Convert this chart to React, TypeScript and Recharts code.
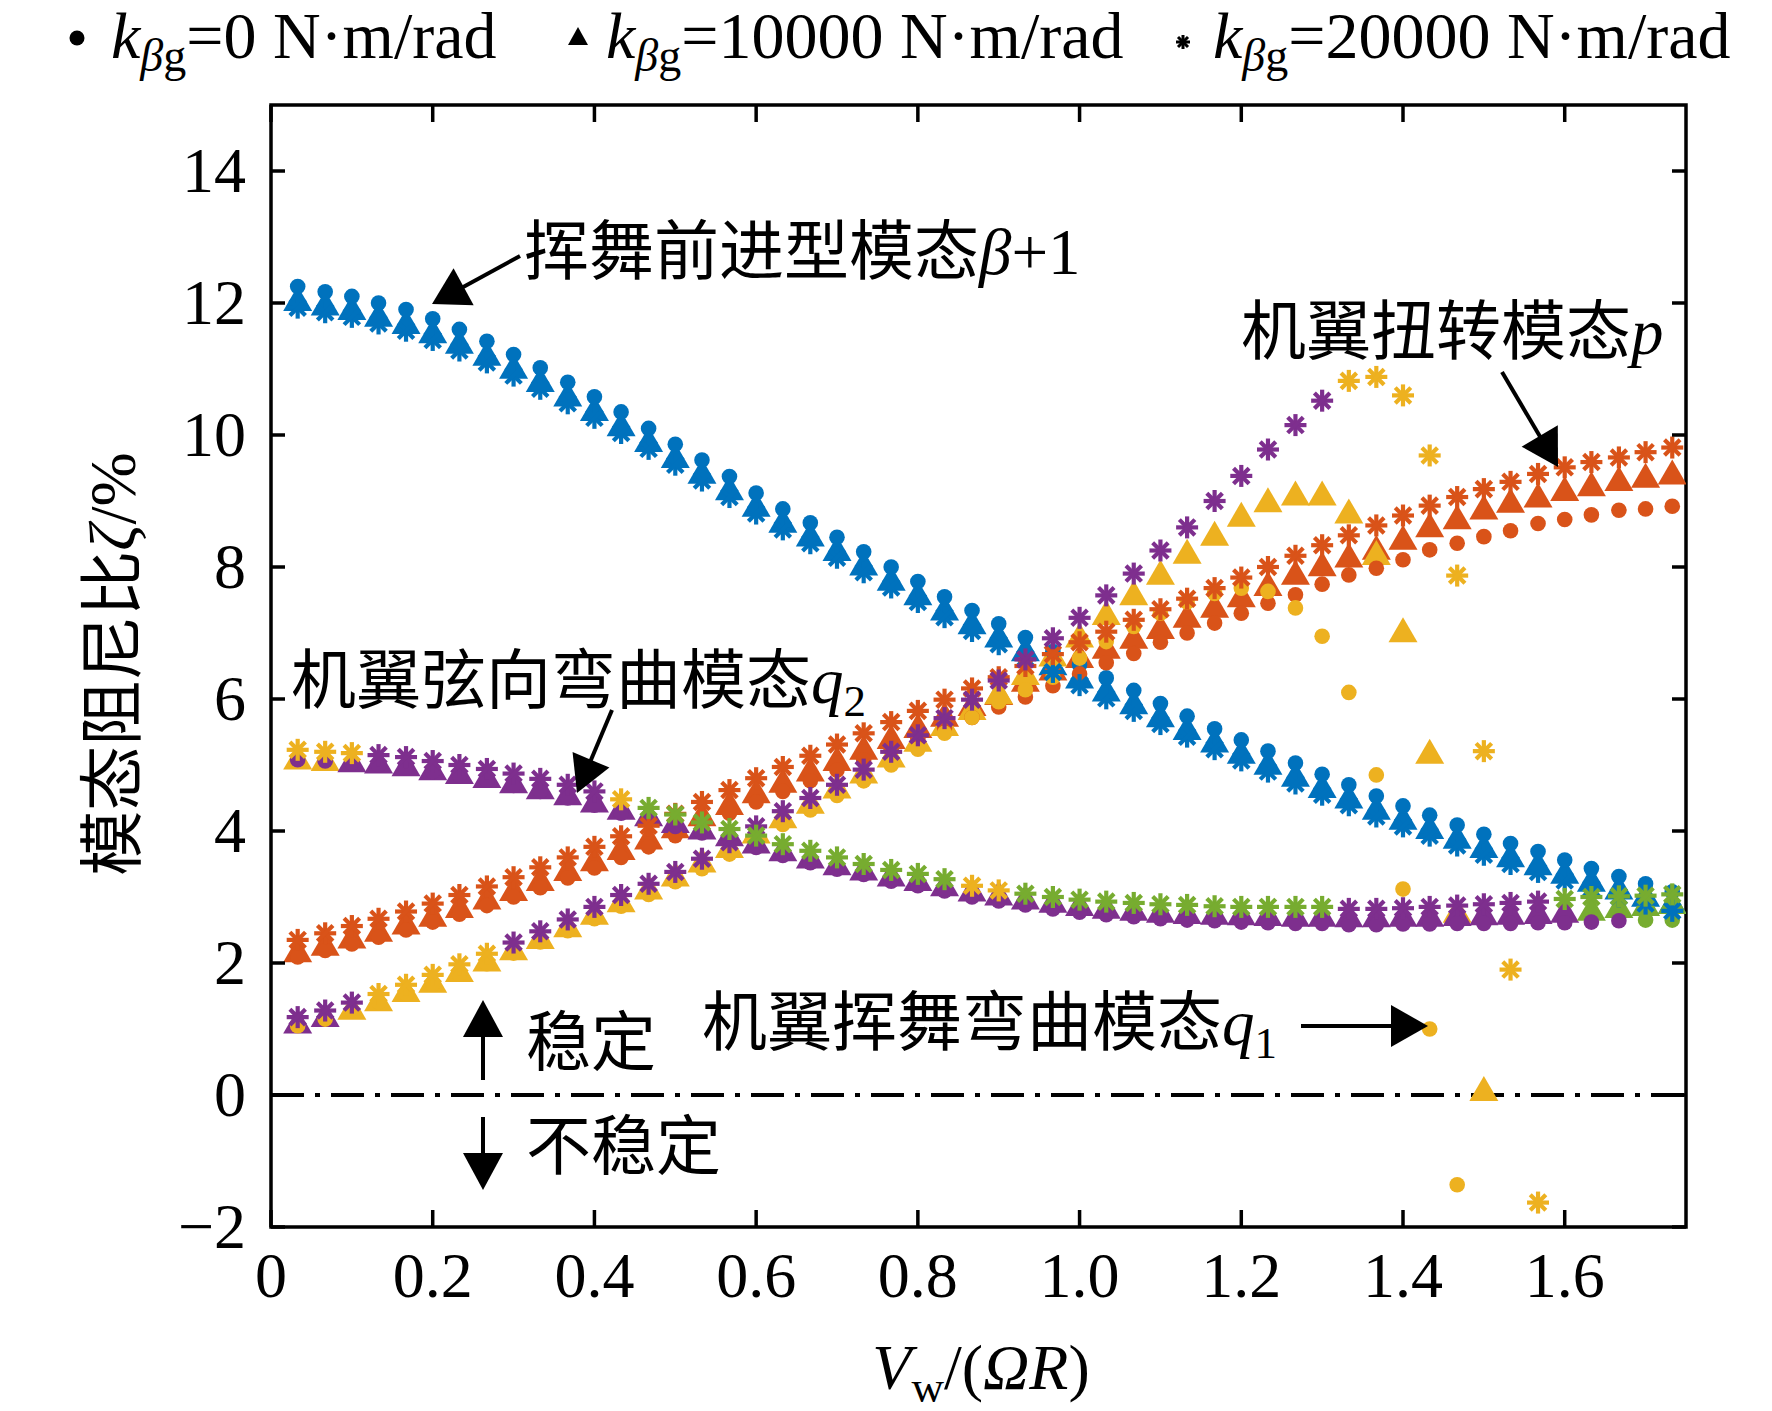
import React from 'react'
import { ScatterChart, Scatter, XAxis, YAxis, ReferenceLine, ReferenceArea } from 'recharts'

const W = 1772
const H = 1411
const PLOT = { left: 271, top: 105, right: 1686, bottom: 1227 }
const X_AXIS_H = 100
const Y_AXIS_W = 150

const BLUE = '#0072BD'
const ORANGE = '#D95319'
const YELLOW = '#EDB120'
const PURPLE = '#7E2F8E'
const GREEN = '#77AC30'

const SERIF = '"Liberation Serif", "Times New Roman", serif'
const CJK = '"Noto Sans CJK SC", "Noto Sans CJK JP", sans-serif'

// V_w/(ΩR) sample points
const speedRatio = [
  0.033, 0.067, 0.1, 0.133, 0.167, 0.2, 0.233, 0.267, 0.3, 0.333,
  0.367, 0.4, 0.433, 0.467, 0.5, 0.533, 0.567, 0.6, 0.633, 0.667,
  0.7, 0.733, 0.767, 0.8, 0.833, 0.867, 0.9, 0.933, 0.967, 1.0,
  1.033, 1.067, 1.1, 1.133, 1.167, 1.2, 1.233, 1.267, 1.3, 1.333,
  1.367, 1.4, 1.433, 1.467, 1.5, 1.533, 1.567, 1.6, 1.633, 1.667,
  1.7, 1.733,
]

const xTicks = [0, 0.2, 0.4, 0.6, 0.8, 1.0, 1.2, 1.4, 1.6]
const yTicks = [-2, 0, 2, 4, 6, 8, 10, 12, 14]

// 挥舞前进型模态 β+1
const betaCircle = [
  12.25, 12.17, 12.1, 12.0, 11.9, 11.76, 11.6, 11.42, 11.22, 11.02,
  10.8, 10.58, 10.35, 10.1, 9.86, 9.62, 9.37, 9.12, 8.88, 8.67,
  8.45, 8.23, 8.0, 7.78, 7.55, 7.34, 7.14, 6.93, 6.72, 6.52,
  6.32, 6.13, 5.93, 5.74, 5.55, 5.38, 5.21, 5.03, 4.86, 4.7,
  4.53, 4.38, 4.24, 4.09, 3.95, 3.81, 3.69, 3.56, 3.43, 3.31,
  3.2, 3.08,
]
const betaTri = [
  12.07, 12.0, 11.93, 11.83, 11.72, 11.58, 11.42, 11.24, 11.04, 10.84,
  10.62, 10.4, 10.17, 9.93, 9.69, 9.45, 9.2, 8.95, 8.71, 8.5,
  8.28, 8.06, 7.83, 7.61, 7.38, 7.17, 6.97, 6.76, 6.55, 6.35,
  6.15, 5.96, 5.76, 5.57, 5.38, 5.21, 5.04, 4.86, 4.69, 4.53,
  4.36, 4.21, 4.07, 3.92, 3.78, 3.64, 3.52, 3.39, 3.27, 3.15,
  3.04, 2.93,
]
const betaStar = [
  11.93, 11.86, 11.79, 11.69, 11.58, 11.44, 11.28, 11.1, 10.9, 10.7,
  10.48, 10.26, 10.03, 9.79, 9.55, 9.31, 9.06, 8.81, 8.57, 8.36,
  8.14, 7.92, 7.69, 7.47, 7.24, 7.03, 6.83, 6.62, 6.41, 6.21,
  6.01, 5.82, 5.62, 5.43, 5.24, 5.07, 4.9, 4.72, 4.55, 4.39,
  4.22, 4.07, 3.93, 3.78, 3.64, 3.5, 3.38, 3.25, 3.13, 3.01,
  2.9, 2.79,
]

// 机翼扭转模态 p
const torsionCircle = [
  2.09, 2.19, 2.29, 2.39, 2.5, 2.62, 2.74, 2.87, 3.0, 3.14,
  3.29, 3.44, 3.6, 3.76, 3.93, 4.1, 4.27, 4.44, 4.6, 4.76,
  4.92, 5.08, 5.24, 5.4, 5.56, 5.72, 5.88, 6.03, 6.2, 6.38,
  6.55, 6.69, 6.86, 7.0, 7.15, 7.3, 7.45, 7.58, 7.74, 7.88,
  7.98, 8.11, 8.26, 8.36, 8.46, 8.55, 8.66, 8.72, 8.79, 8.86,
  8.88, 8.92,
]
const torsionTri = [
  2.2, 2.3, 2.41, 2.51, 2.62, 2.74, 2.87, 3.0, 3.13, 3.28,
  3.43, 3.58, 3.75, 3.91, 4.08, 4.26, 4.43, 4.61, 4.77, 4.94,
  5.1, 5.27, 5.43, 5.6, 5.77, 5.93, 6.1, 6.3, 6.47, 6.66,
  6.8, 6.95, 7.1, 7.27, 7.42, 7.58, 7.75, 7.92, 8.05, 8.18,
  8.3, 8.45, 8.64, 8.76, 8.91, 9.01, 9.09, 9.19, 9.26, 9.34,
  9.39, 9.44,
]
const torsionStar = [
  2.35, 2.45, 2.56, 2.67, 2.78, 2.9, 3.03, 3.16, 3.3, 3.45,
  3.6, 3.76, 3.92, 4.08, 4.26, 4.44, 4.62, 4.8, 4.97, 5.14,
  5.31, 5.48, 5.65, 5.82, 5.99, 6.16, 6.33, 6.5, 6.68, 6.86,
  7.02, 7.2, 7.36, 7.52, 7.68, 7.84, 8.0, 8.17, 8.33, 8.48,
  8.63, 8.78, 8.93, 9.06, 9.18, 9.29, 9.41, 9.51, 9.59, 9.66,
  9.74, 9.81,
]

// 机翼挥舞弯曲模态 q1
const flapCircle = [
  1.05, 1.15, 1.28, 1.41, 1.54, 1.68, 1.83, 1.99, 2.15, 2.32,
  2.49, 2.67, 2.86, 3.04, 3.23, 3.43, 3.65, 3.88, 4.1, 4.32,
  4.54, 4.76, 5.0, 5.24, 5.48, 5.72, 5.96, 6.14, 6.33, 6.62,
  6.87, 7.1, 7.3, 7.47, 7.6, 7.68, 7.63, 7.38, 6.95, 6.1,
  4.85, 3.12, 1.0, -1.36, null, null, null, null, null, null,
  null, null,
]
const flapTri = [
  1.12, 1.22, 1.33, 1.46, 1.6, 1.74, 1.9, 2.06, 2.23, 2.4,
  2.58, 2.77, 2.96, 3.15, 3.35, 3.56, 3.78, 4.0, 4.23, 4.45,
  4.68, 4.91, 5.15, 5.39, 5.63, 5.87, 6.11, 6.4, 6.68, 6.97,
  7.31, 7.61, 7.92, 8.24, 8.51, 8.8, 9.02, 9.12, 9.12, 8.85,
  8.22, 7.05, 5.21, 2.8, 0.1, null, null, null, null, null,
  null, null,
]
const flapStar = [
  1.18, 1.28, 1.4, 1.53, 1.67, 1.82, 1.98, 2.14, 2.31, 2.48,
  2.66, 2.85, 3.03, 3.2, 3.38, 3.58, 3.83, 4.07, 4.3, 4.5,
  4.7, 4.93, 5.2, 5.45, 5.71, 5.99, 6.28, 6.6, 6.92, 7.23,
  7.57, 7.9, 8.25, 8.6, 9.0, 9.38, 9.78, 10.15, 10.52, 10.82,
  10.88, 10.6, 9.69, 7.87, 5.21, 1.9, -1.63, null, null, null,
  null, null,
]

// 机翼弦向弯曲模态 q2
const chordCircle = [
  5.08, 5.06, 5.03, 5.0, 4.96, 4.9, 4.84, 4.77, 4.69, 4.6,
  4.5, 4.39, 4.27, 4.17, 4.07, 3.97, 3.87, 3.75, 3.63, 3.52,
  3.42, 3.34, 3.24, 3.17, 3.09, 3.0, 2.94, 2.88, 2.82, 2.77,
  2.73, 2.7, 2.67, 2.65, 2.64, 2.62, 2.61, 2.6, 2.6, 2.58,
  2.58, 2.59, 2.59, 2.6, 2.6, 2.6, 2.61, 2.61, 2.62, 2.64,
  2.65, 2.65,
]
const chordTri = [
  5.12, 5.1, 5.08, 5.06, 5.02, 4.96, 4.9, 4.84, 4.76, 4.67,
  4.58, 4.47, 4.36, 4.26, 4.16, 4.06, 3.96, 3.85, 3.73, 3.62,
  3.52, 3.44, 3.35, 3.28, 3.2, 3.12, 3.06, 3.0, 2.95, 2.9,
  2.86, 2.83, 2.8, 2.78, 2.77, 2.76, 2.75, 2.74, 2.74, 2.73,
  2.73, 2.74, 2.74, 2.75, 2.76, 2.77, 2.78, 2.8, 2.83, 2.87,
  2.9, 2.93,
]
const chordStar = [
  5.23, 5.2, 5.18, 5.15, 5.12, 5.06, 5.0, 4.94, 4.87, 4.79,
  4.7, 4.6, 4.48, 4.35, 4.25, 4.13, 4.03, 3.93, 3.8, 3.7,
  3.6, 3.5, 3.41, 3.35, 3.27, 3.17, 3.1, 3.05, 3.0, 2.96,
  2.93, 2.91, 2.89, 2.88, 2.86, 2.85, 2.85, 2.85, 2.85, 2.82,
  2.82, 2.83, 2.85, 2.87, 2.89, 2.91, 2.93, 2.97, 3.0, 3.01,
  3.02, 3.04,
]

type Kind = 'circle' | 'triangle' | 'star'
type Run = [number, number, string] // first point, last point (1-based), colour

// MATLAB assigns colours by mode order, so colours change where modes cross
const tracks: { kind: Kind; values: (number | null)[]; runs: Run[] }[] = [
  { kind: 'triangle', values: betaTri, runs: [[1, 52, BLUE]] },
  { kind: 'triangle', values: torsionTri, runs: [[1, 52, ORANGE]] },
  { kind: 'triangle', values: flapTri, runs: [[1, 2, PURPLE], [3, 52, YELLOW]] },
  { kind: 'triangle', values: chordTri, runs: [[1, 2, YELLOW], [3, 48, PURPLE], [49, 52, GREEN]] },
  { kind: 'circle', values: betaCircle, runs: [[1, 52, BLUE]] },
  { kind: 'circle', values: torsionCircle, runs: [[1, 52, ORANGE]] },
  { kind: 'circle', values: flapCircle, runs: [[1, 52, YELLOW]] },
  { kind: 'circle', values: chordCircle, runs: [[1, 50, PURPLE], [51, 52, GREEN]] },
  { kind: 'star', values: betaStar, runs: [[1, 52, BLUE]] },
  { kind: 'star', values: torsionStar, runs: [[1, 52, ORANGE]] },
  { kind: 'star', values: flapStar, runs: [[1, 3, PURPLE], [4, 8, YELLOW], [9, 39, PURPLE], [40, 52, YELLOW]] },
  {
    kind: 'star',
    values: chordStar,
    runs: [[1, 3, YELLOW], [4, 12, PURPLE], [13, 13, YELLOW], [14, 25, GREEN], [26, 27, YELLOW], [28, 39, GREEN], [40, 47, PURPLE], [48, 52, GREEN]],
  },
]

const series = tracks.flatMap((t, ti) =>
  t.runs.map(([from, to, color], ri) => ({
    id: `${ti}-${ri}`,
    kind: t.kind,
    color,
    data: speedRatio
      .map((x, i) => ({ x, y: t.values[i], n: i + 1 }))
      .filter((p) => p.n >= from && p.n <= to && p.y !== null),
  })),
)

const Marker = ({ cx, cy, color, kind }: { cx: number; cy: number; color: string; kind: Kind }) => {
  if (cx == null || cy == null) return null
  if (kind === 'circle') return <circle cx={cx} cy={cy} r={7.8} fill={color} />
  if (kind === 'triangle')
    return <polygon points={`${cx},${cy - 12.5} ${cx + 14.5},${cy + 12.5} ${cx - 14.5},${cy + 12.5}`} fill={color} />
  const r = 11
  const d = r * 0.7071
  return (
    <g stroke={color} strokeWidth={4.2}>
      <line x1={cx - r} y1={cy} x2={cx + r} y2={cy} />
      <line x1={cx} y1={cy - r} x2={cx} y2={cy + r} />
      <line x1={cx - d} y1={cy - d} x2={cx + d} y2={cy + d} />
      <line x1={cx - d} y1={cy + d} x2={cx + d} y2={cy - d} />
    </g>
  )
}

const XTick = ({ x, payload }: any) => (
  <g>
    <line x1={x} x2={x} y1={PLOT.bottom} y2={PLOT.bottom - 17} stroke="#000" strokeWidth={3.5} />
    <line x1={x} x2={x} y1={PLOT.top} y2={PLOT.top + 17} stroke="#000" strokeWidth={3.5} />
    <text x={x} y={PLOT.bottom + 70} textAnchor="middle" fontFamily={SERIF} fontSize={64} fill="#000">
      {payload.value === 0 ? '0' : payload.value.toFixed(1)}
    </text>
  </g>
)

const YTick = ({ y, payload }: any) => (
  <g>
    <line x1={PLOT.left} x2={PLOT.left + 14} y1={y} y2={y} stroke="#000" strokeWidth={3.5} />
    <line x1={PLOT.right} x2={PLOT.right - 14} y1={y} y2={y} stroke="#000" strokeWidth={3.5} />
    <text x={PLOT.left - 25} y={y + 21} textAnchor="end" fontFamily={SERIF} fontSize={64} fill="#000">
      {payload.value < 0 ? `−${-payload.value}` : payload.value}
    </text>
  </g>
)

const Arrow = ({ x1, y1, x2, y2, head = 36, half = 20 }: { x1: number; y1: number; x2: number; y2: number; head?: number; half?: number }) => {
  const len = Math.hypot(x2 - x1, y2 - y1)
  const ux = (x2 - x1) / len
  const uy = (y2 - y1) / len
  const bx = x2 - ux * head
  const by = y2 - uy * head
  return (
    <g>
      <line x1={x1} y1={y1} x2={bx + ux * 2} y2={by + uy * 2} stroke="#000" strokeWidth={4} />
      <polygon points={`${x2},${y2} ${bx - uy * half},${by + ux * half} ${bx + uy * half},${by - ux * half}`} fill="#000" />
    </g>
  )
}

const LegendLabel = ({ x, value }: { x: number; value: string }) => (
  <text x={x} y={58} fontFamily={SERIF} fontSize={66} fill="#000">
    <tspan fontStyle="italic">k</tspan>
    <tspan dy={13} fontSize={46} fontStyle="italic">β</tspan>
    <tspan fontSize={46}>g</tspan>
    <tspan dy={-13}>{`=${value} N·m/rad`}</tspan>
  </text>
)

const Overlay = () => (
  <svg width={W} height={H} style={{ position: 'absolute', left: 0, top: 0, pointerEvents: 'none' }}>
    {/* legend */}
    <circle cx={77} cy={38} r={7.5} fill="#000" />
    <LegendLabel x={111} value="0" />
    <polygon points="578,27 588,45 568,45" fill="#000" />
    <LegendLabel x={606} value="10000" />
    <g stroke="#000" strokeWidth={3}>
      <line x1={1176} y1={42} x2={1190} y2={42} />
      <line x1={1183} y1={35} x2={1183} y2={49} />
      <line x1={1178} y1={37} x2={1188} y2={47} />
      <line x1={1178} y1={47} x2={1188} y2={37} />
    </g>
    <LegendLabel x={1213} value="20000" />

    {/* axis titles */}
    <g transform="translate(113 664) rotate(-90)">
      <text x={0} y={22} textAnchor="middle" fontSize={65} fill="#000">
        <tspan fontFamily={CJK}>模态阻尼比</tspan>
        <tspan fontFamily={SERIF} fontStyle="italic">ζ</tspan>
        <tspan fontFamily={SERIF}>/%</tspan>
      </text>
    </g>
    <text x={981} y={1389} textAnchor="middle" fontFamily={SERIF} fontSize={64} fill="#000">
      <tspan fontStyle="italic">V</tspan>
      <tspan dy={13} fontSize={45}>w</tspan>
      <tspan dy={-13}>/(</tspan>
      <tspan fontStyle="italic">ΩR</tspan>
      <tspan>)</tspan>
    </text>

    {/* mode annotations */}
    <text x={524} y={274} fontSize={65} fill="#000">
      <tspan fontFamily={CJK}>挥舞前进型模态</tspan>
      <tspan fontFamily={SERIF} fontStyle="italic">β</tspan>
      <tspan fontFamily={SERIF}>+1</tspan>
    </text>
    <Arrow x1={520} y1={256} x2={432} y2={304} head={36} half={21} />

    <text x={1241} y={354} fontSize={65} fill="#000">
      <tspan fontFamily={CJK}>机翼扭转模态</tspan>
      <tspan fontFamily={SERIF} fontStyle="italic">p</tspan>
    </text>
    <Arrow x1={1502} y1={372} x2={1558} y2={467} head={36} half={21} />

    <text x={291} y={703} fontSize={65} fill="#000">
      <tspan fontFamily={CJK}>机翼弦向弯曲模态</tspan>
      <tspan fontFamily={SERIF} fontStyle="italic">q</tspan>
      <tspan fontFamily={SERIF} dy={13} fontSize={45}>2</tspan>
    </text>
    <Arrow x1={612} y1={710} x2={577} y2={793} head={36} half={20} />

    <text x={702} y={1045} fontSize={65} fill="#000">
      <tspan fontFamily={CJK}>机翼挥舞弯曲模态</tspan>
      <tspan fontFamily={SERIF} fontStyle="italic">q</tspan>
      <tspan fontFamily={SERIF} dy={13} fontSize={45}>1</tspan>
    </text>
    <Arrow x1={1301} y1={1026} x2={1428} y2={1026} head={37} half={21} />

    {/* stability hints */}
    <Arrow x1={483} y1={1080} x2={483} y2={1000} head={37} half={20} />
    <text x={526} y={1065} fontFamily={CJK} fontSize={65} fill="#000">稳定</text>
    <Arrow x1={483} y1={1117} x2={483} y2={1190} head={37} half={20} />
    <text x={526} y={1169} fontFamily={CJK} fontSize={65} fill="#000">不稳定</text>
  </svg>
)

const App = () => {
  return (
    <div style={{ position: 'absolute', left: 0, top: 0, width: W, height: H, background: '#fff' }}>
      <ScatterChart
        width={W}
        height={H}
        margin={{ top: PLOT.top, right: W - PLOT.right, bottom: H - PLOT.bottom - X_AXIS_H, left: PLOT.left - Y_AXIS_W }}
      >
        <XAxis
          type="number"
          dataKey="x"
          domain={[0, 1.75]}
          ticks={xTicks}
          interval={0}
          allowDataOverflow
          height={X_AXIS_H}
          axisLine={false}
          tickLine={false}
          tick={(p: any) => <XTick {...p} />}
        />
        <YAxis
          type="number"
          dataKey="y"
          domain={[-2, 15]}
          ticks={yTicks}
          interval={0}
          allowDataOverflow
          width={Y_AXIS_W}
          axisLine={false}
          tickLine={false}
          tick={(p: any) => <YTick {...p} />}
        />
        {series.map((s) => (
          <Scatter
            key={s.id}
            data={s.data}
            fill={s.color}
            isAnimationActive={false}
            shape={(p: any) => <Marker cx={p.cx} cy={p.cy} color={s.color} kind={s.kind} />}
          />
        ))}
        <ReferenceLine y={0} stroke="#000" strokeWidth={4} strokeDasharray="33 11 5 11" />
        <ReferenceArea x1={0} x2={1.75} y1={-2} y2={15} fill="none" fillOpacity={0} stroke="#000" strokeWidth={3.5} ifOverflow="visible" />
      </ScatterChart>
      <Overlay />
    </div>
  )
}

export default App
